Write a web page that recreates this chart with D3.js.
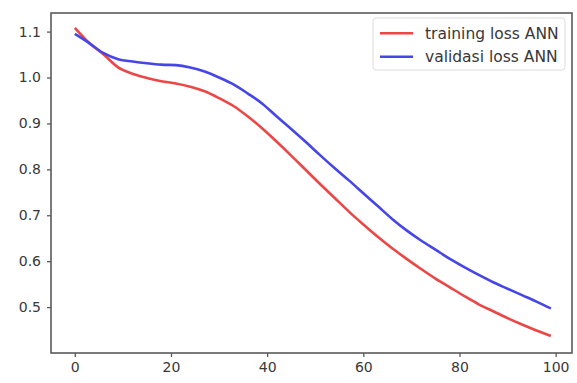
<!DOCTYPE html>
<html>
<head>
<meta charset="utf-8">
<script src="https://cdn.jsdelivr.net/npm/d3@7"></script>
<style>
  body { margin: 0; background: #fff; }
  svg { display: block; font-family: "DejaVu Sans", sans-serif; }
</style>
</head>
<body>
<div id="chart"></div>
<script>
// epochs sampled every 3 steps
const epochs = [0, 3, 6, 9, 12, 15, 18, 21, 24, 27, 30, 33, 36, 39, 42, 45, 48,
  51, 54, 57, 60, 63, 66, 69, 72, 75, 78, 81, 84, 87, 90, 93, 96, 99];

const trainingLoss = [1.108, 1.075, 1.050, 1.022, 1.008, 0.999, 0.992, 0.987, 0.980,
  0.970, 0.955, 0.938, 0.915, 0.889, 0.860, 0.830, 0.799, 0.768, 0.738, 0.708,
  0.680, 0.653, 0.628, 0.605, 0.583, 0.562, 0.543, 0.524, 0.506, 0.491, 0.476,
  0.462, 0.449, 0.437];

const validasiLoss = [1.095, 1.075, 1.053, 1.040, 1.035, 1.031, 1.028, 1.027, 1.022,
  1.013, 1.000, 0.985, 0.965, 0.943, 0.915, 0.888, 0.860, 0.831, 0.803, 0.776,
  0.748, 0.720, 0.692, 0.667, 0.645, 0.625, 0.605, 0.587, 0.570, 0.554, 0.540,
  0.526, 0.512, 0.497];

const xTicks = [0, 20, 40, 60, 80, 100];
const yTicks = [0.5, 0.6, 0.7, 0.8, 0.9, 1.0, 1.1];
const seriesNames = ["training loss ANN", "validasi loss ANN"];

const W = 577, H = 383;
const margin = { top: 13, right: 5, bottom: 30, left: 51 };
const width = W - margin.left - margin.right;
const height = H - margin.top - margin.bottom;

const svg = d3.select("#chart").append("svg")
  .attr("width", W)
  .attr("height", H);

const g = svg.append("g")
  .attr("transform", `translate(${margin.left},${margin.top})`);

const x = d3.scaleLinear().domain([-4.95, 103.4]).range([0, width]);
const y = d3.scaleLinear().domain([0.4, 1.1405]).range([height, 0]);

const axisColor = "#5a5a5a";
const textColor = "#383838";

// x axis
const gx = g.append("g")
  .attr("transform", `translate(0,${height})`)
  .call(d3.axisBottom(x).tickValues(xTicks).tickFormat(d3.format("d")).tickSize(4).tickPadding(5));

// y axis
const gy = g.append("g")
  .call(d3.axisLeft(y).tickValues(yTicks).tickFormat(d3.format(".1f")).tickSize(4).tickPadding(6));

[gx, gy].forEach(a => {
  a.select(".domain").remove();
  a.selectAll(".tick line").attr("stroke", axisColor).attr("stroke-width", 1.3);
  a.selectAll(".tick text")
    .attr("fill", textColor)
    .style("font-size", "14px")
    .style("font-family", "DejaVu Sans, sans-serif");
});

// frame
g.append("rect")
  .attr("width", width)
  .attr("height", height)
  .attr("fill", "none")
  .attr("stroke", axisColor)
  .attr("stroke-width", 1.6);

const line = d3.line()
  .x((d, i) => x(epochs[i]))
  .y(d => y(d))
  .curve(d3.curveMonotoneX);

const series = [
  { name: seriesNames[0], values: trainingLoss, color: "#ec4747" },
  { name: seriesNames[1], values: validasiLoss, color: "#4646e8" }
];

series.forEach(s => {
  g.append("path")
    .datum(s.values)
    .attr("fill", "none")
    .attr("stroke", s.color)
    .attr("stroke-width", 2.6)
    .attr("stroke-linejoin", "round")
    .attr("d", line);
});

// legend
const lg = g.append("g").attr("transform", `translate(${width - 199},5)`);
lg.append("rect")
  .attr("width", 192)
  .attr("height", 52)
  .attr("rx", 3)
  .attr("fill", "#fff")
  .attr("stroke", "#dcdcdc")
  .attr("stroke-width", 1);

series.forEach((s, i) => {
  const row = lg.append("g").attr("transform", `translate(0,${15.3 + i * 23.4})`);
  row.append("line")
    .attr("x1", 7).attr("x2", 40)
    .attr("stroke", s.color)
    .attr("stroke-width", 2.6);
  row.append("text")
    .attr("x", 52)
    .attr("dy", "0.35em")
    .attr("fill", textColor)
    .style("font-size", "15.5px")
    .text(s.name);
});
</script>
</body>
</html>
